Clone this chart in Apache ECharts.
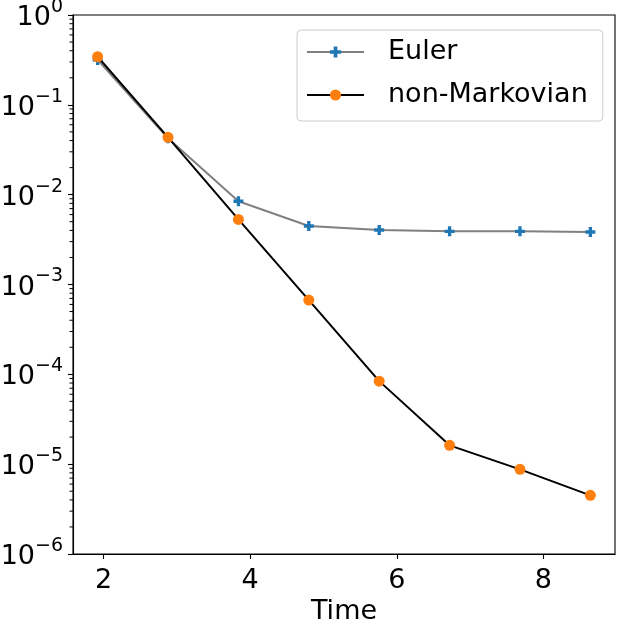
<!DOCTYPE html>
<html>
<head>
<meta charset="utf-8">
<script src="https://cdn.jsdelivr.net/npm/echarts@6/dist/echarts.min.js"></script>
<style>
html,body{margin:0;padding:0;background:#fff;}
#chart{width:619px;height:620px;}
</style>
</head>
<body>
<div id="chart"></div>
<script>
const times = [1.92, 2.88, 3.84, 4.80, 5.76, 6.72, 7.68, 8.64];
const eulerValues = [0.316, 0.0424, 0.00844, 0.00448, 0.00404, 0.00391, 0.00391, 0.00384];
const nonMarkovianValues = [0.343, 0.0435, 0.0053, 0.00067, 0.000084, 0.0000162, 0.00000876, 0.0000045];
const xTicks = [2, 4, 6, 8];
const seriesNames = ['Euler', 'non-Markovian'];

const xMin = 1.584, xMax = 8.976;
const yMin = 1e-6, yMax = 1;

const minorTicks = [];
for (let e = -6; e < 0; e++) {
  for (let m = 2; m <= 9; m++) minorTicks.push(m * Math.pow(10, e));
}

const FONT = 'DejaVu Sans';
const plusPath = 'path://M3,0H6V3H9V6H6V9H3V6H0V3H3Z';

const chart = echarts.init(document.getElementById('chart'), null, {renderer: 'canvas'});
chart.setOption({
  animation: false,
  backgroundColor: '#fff',
  textStyle: {fontFamily: FONT},
  grid: {left: 73, right: 4, top: 15, bottom: 66, outerBoundsMode: 'none', containLabel: false,
         show: true, borderColor: '#000', borderWidth: 1.1, backgroundColor: 'transparent'},
  legend: {
    data: seriesNames,
    left: 297, top: 30,
    orient: 'vertical',
    itemWidth: 57, itemHeight: 14, itemGap: 13,
    padding: [7, 15, 11, 9],
    borderColor: '#cccccc', borderWidth: 1, borderRadius: 4,
    backgroundColor: 'rgba(255,255,255,0.8)',
    textStyle: {fontFamily: FONT, fontSize: 27, color: '#000', lineHeight: 30, padding: [0, 0, 0, 19]}
  },
  xAxis: {
    type: 'value', min: xMin, max: xMax,
    name: 'Time', nameLocation: 'middle', nameGap: 42,
    nameTextStyle: {fontFamily: FONT, fontSize: 27, color: '#000'},
    axisLine: {show: true, lineStyle: {color: '#000', width: 1.1}},
    axisTick: {show: true, length: 5, lineStyle: {color: '#000', width: 1.1}, customValues: xTicks},
    axisLabel: {fontFamily: FONT, fontSize: 27, color: '#000', margin: 13, customValues: xTicks},
    splitLine: {show: false}
  },
  yAxis: {
    type: 'log', logBase: 10, min: yMin, max: yMax, interval: 1,
    axisLine: {show: true, lineStyle: {color: '#000', width: 1.1}},
    axisTick: {show: true, length: 5, lineStyle: {color: '#000', width: 1.1}},
    splitLine: {show: false},
    axisLabel: {
      margin: 10, color: '#000',
      formatter: function (v) {
        const e = Math.round(Math.log10(v));
        return '{b|10}{s|' + (e < 0 ? '\u2212' + (-e) : e) + '}';
      },
      rich: {
        b: {fontFamily: FONT, fontSize: 27, color: '#000', lineHeight: 27, padding: [6, 0, 0, 0]},
        s: {fontFamily: FONT, fontSize: 19, color: '#000', lineHeight: 19, padding: [0, 0, 16, 0]}
      }
    }
  },
  series: [
    {
      name: 'Euler', type: 'line',
      data: times.map((t, i) => [t, eulerValues[i]]),
      lineStyle: {color: '#808080', width: 2},
      itemStyle: {color: '#1f77b4'},
      symbol: plusPath, symbolSize: 10, showSymbol: true,
      z: 2
    },
    {
      name: 'non-Markovian', type: 'line',
      data: times.map((t, i) => [t, nonMarkovianValues[i]]),
      lineStyle: {color: '#000', width: 2},
      itemStyle: {color: '#ff7f0e'},
      symbol: 'circle', symbolSize: 11, showSymbol: true,
      z: 3
    },
    {
      name: 'minor', type: 'custom', clip: false, silent: true,
      data: minorTicks.map(v => [xMin, v]),
      renderItem: function (params, api) {
        const p = api.coord([xMin, api.value(1)]);
        return {type: 'line', shape: {x1: p[0], y1: p[1], x2: p[0] - 3.5, y2: p[1]}, style: {stroke: '#000', lineWidth: 1}};
      },
      z: 1
    }
  ]
});
</script>
</body>
</html>
